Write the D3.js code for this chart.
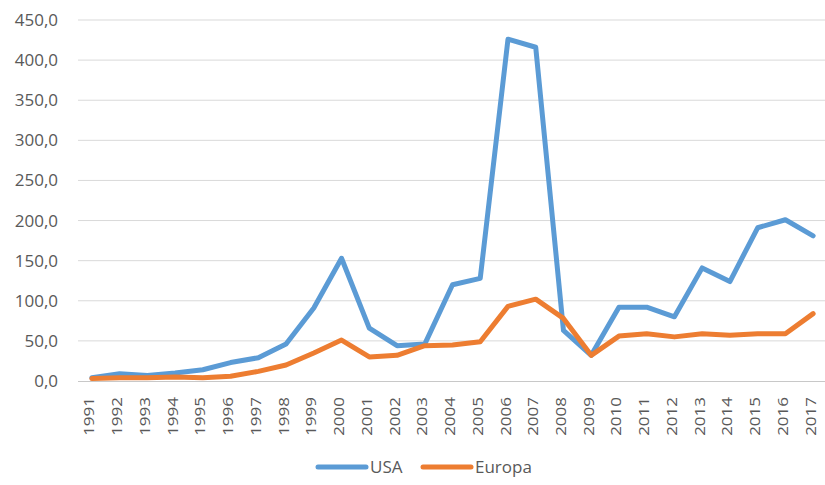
<!DOCTYPE html>
<html>
<head>
<meta charset="utf-8">
<script src="https://cdn.jsdelivr.net/npm/d3@7"></script>
<style>
  html, body { margin: 0; padding: 0; background: #ffffff; }
  svg { display: block; }
  text { font-family: "Open Sans", "Noto Sans", sans-serif; fill: #595959; }
</style>
</head>
<body>
<svg id="chart" width="825" height="485"></svg>
<script>
// Years on the category axis
const years = [1991, 1992, 1993, 1994, 1995, 1996, 1997, 1998, 1999, 2000,
               2001, 2002, 2003, 2004, 2005, 2006, 2007, 2008, 2009, 2010,
               2011, 2012, 2013, 2014, 2015, 2016, 2017];

// Series values
const usa = [4, 9, 7, 10, 14, 23, 29, 46, 91, 153,
             66, 44, 46, 120, 128, 426, 416, 63, 32, 92,
             92, 80, 141, 124, 191, 201, 181];
const europa = [3, 4, 4, 5, 4, 6, 12, 20, 35, 51,
                30, 32, 44, 45, 49, 93, 102, 78, 32, 56,
                59, 55, 59, 57, 59, 59, 84];

// Value axis ticks
const yTicks = [0, 50, 100, 150, 200, 250, 300, 350, 400, 450];

const seriesNames = ["USA", "Europa"];
const seriesColors = ["#5B9BD5", "#ED7D31"];

const svg = d3.select("#chart");
const plotLeft = 78, plotRight = 827, plotTop = 20, plotBottom = 381;

const x = d3.scaleBand().domain(years).range([plotLeft, plotRight]);
const cx = d => x(d) + x.bandwidth() / 2;
const y = d3.scaleLinear().domain([0, 450]).range([plotBottom, plotTop]);

const fmt = v => d3.format(".1f")(v).replace(".", ",");

// Horizontal gridlines
svg.append("g")
  .selectAll("line")
  .data(yTicks.filter(t => t > 0))
  .join("line")
  .attr("x1", plotLeft).attr("x2", 825)
  .attr("y1", d => y(d)).attr("y2", d => y(d))
  .attr("stroke", "#d9d9d9").attr("stroke-width", 1);

// Value axis labels
const yAxis = d3.axisLeft(y).tickValues(yTicks).tickFormat(fmt).tickSize(0).tickPadding(20);
const gy = svg.append("g").attr("transform", `translate(${plotLeft},0)`).call(yAxis);
gy.select(".domain").remove();
gy.selectAll("text").style("font-size", "17px").attr("fill", "#595959")
  .style("font-family", "\"Open Sans\", sans-serif");

// Category axis
const xAxis = d3.axisBottom(x).tickSize(0).tickPadding(0);
const gx = svg.append("g").attr("transform", `translate(0,${plotBottom})`).call(xAxis);
gx.select(".domain").attr("stroke", "#c8c8c8").attr("stroke-width", 1)
  .attr("d", `M${plotLeft},0.5H825`);
gx.selectAll("text")
  .style("font-size", "17px")
  .style("font-family", "\"Open Sans\", sans-serif")
  .attr("fill", "#595959")
  .attr("text-anchor", "end")
  .attr("transform", "rotate(-90) scale(1,0.85)")
  .attr("x", -16)
  .attr("y", -3)
  .attr("dy", "0.35em");

// Series lines
const line = d3.line().x((d, i) => cx(years[i])).y(d => y(d));
[usa, europa].forEach((vals, k) => {
  svg.append("path")
    .datum(vals)
    .attr("fill", "none")
    .attr("stroke", seriesColors[k])
    .attr("stroke-width", 5)
    .attr("stroke-linejoin", "round")
    .attr("stroke-linecap", "round")
    .attr("d", line);
});

// Legend
const legend = svg.append("g");
const legendItems = [
  { name: seriesNames[0], color: seriesColors[0], x: 318 },
  { name: seriesNames[1], color: seriesColors[1], x: 423 }
];
legendItems.forEach(it => {
  legend.append("line")
    .attr("x1", it.x).attr("x2", it.x + 48)
    .attr("y1", 467).attr("y2", 467)
    .attr("stroke", it.color).attr("stroke-width", 5)
    .attr("stroke-linecap", "round");
  legend.append("text")
    .attr("x", it.x + 52).attr("y", 467).attr("dy", "0.35em")
    .style("font-size", "17px")
    .text(it.name);
});
</script>
</body>
</html>
